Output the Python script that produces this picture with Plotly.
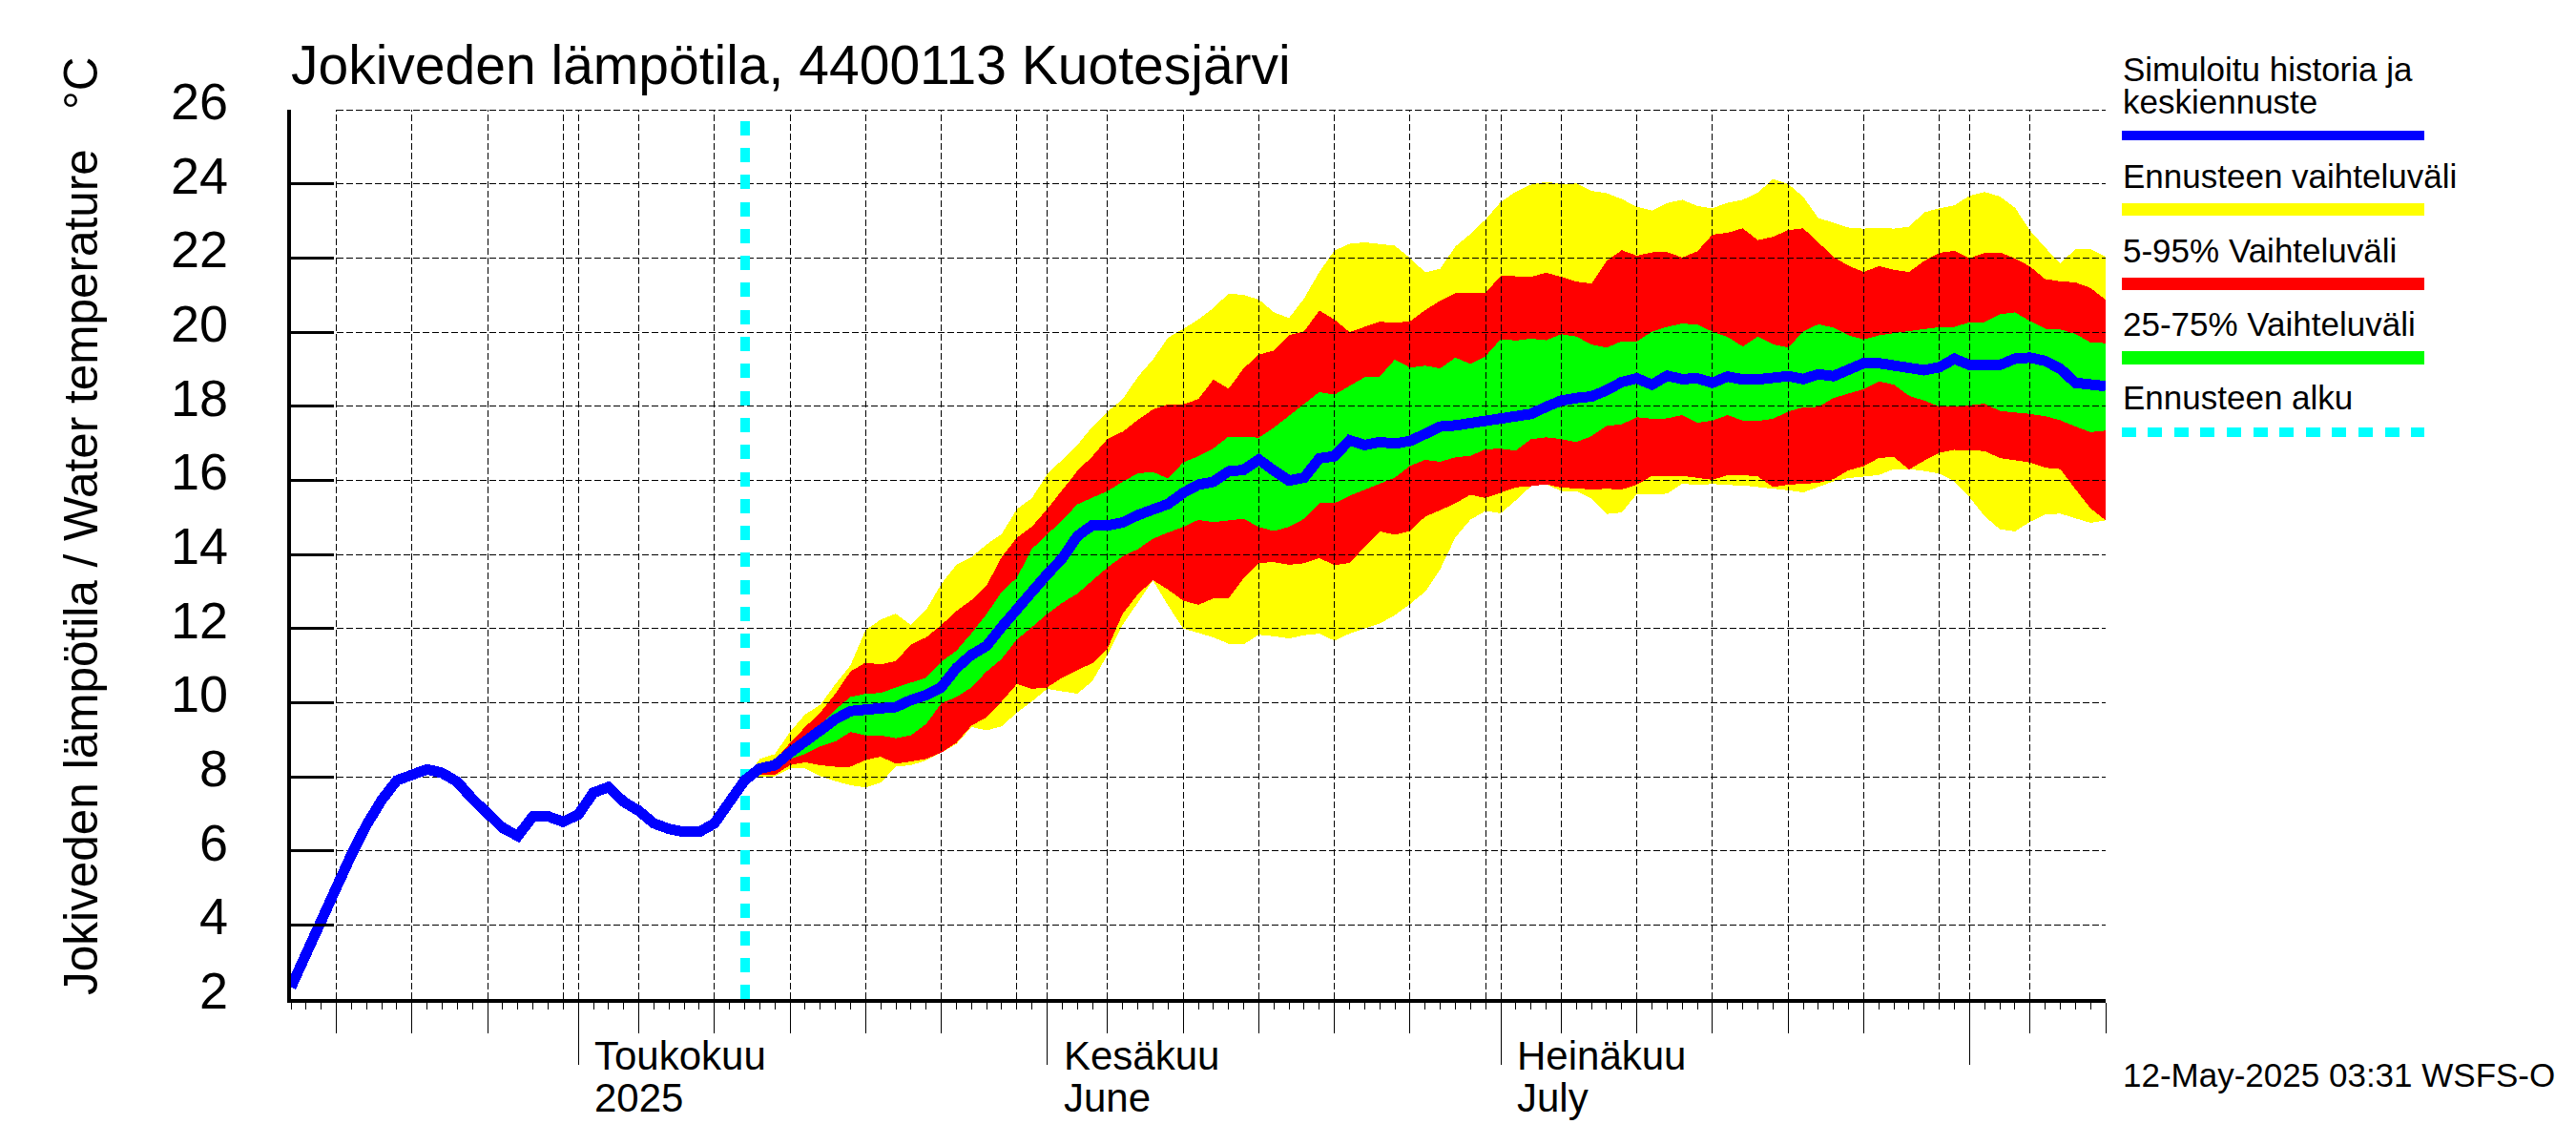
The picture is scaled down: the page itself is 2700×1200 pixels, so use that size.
import pandas as pd
import plotly.graph_objects as go

# history, simulated daily values 12.4. - 11.5.
hist_dates = pd.date_range('2025-04-12', '2025-05-11').strftime('%Y-%m-%d').tolist()
hist = [2.32, 3.25, 4.04, 5.0, 5.9, 6.7, 7.37, 7.9, 8.06, 8.2,
        8.1, 7.86, 7.4, 7.03, 6.62, 6.4, 6.93, 6.93, 6.78, 6.98,
        7.57, 7.72, 7.32, 7.08, 6.74, 6.59, 6.51, 6.51, 6.74, 7.32]

# forecast, daily values 12.5. - 10.8.
fc_dates = pd.date_range('2025-05-12', '2025-08-10').strftime('%Y-%m-%d').tolist()
median = [7.9, 8.22, 8.31, 8.65, 8.91, 9.25, 9.55, 9.77, 9.81, 9.81,
          9.88, 10.07, 10.2, 10.41, 10.93, 11.29, 11.53, 12.04, 12.47, 12.99,
          13.46, 13.89, 14.49, 14.79, 14.78, 14.86, 15.06, 15.22, 15.36, 15.66,
          15.88, 15.96, 16.24, 16.28, 16.56, 16.26, 15.99, 16.07, 16.59, 16.65,
          17.08, 16.95, 17.03, 16.99, 17.06, 17.25, 17.45, 17.48, 17.53, 17.64,
          17.68, 17.75, 17.79, 17.98, 18.15, 18.22, 18.26, 18.43, 18.65, 18.75,
          18.58, 18.82, 18.73, 18.75, 18.63, 18.8, 18.72, 18.72, 18.75, 18.81,
          18.73, 18.86, 18.81, 19.01, 19.16, 19.16, 19.09, 18.97, 18.97, 19.05,
          19.28, 19.11, 19.11, 19.11, 19.28, 19.31, 19.22, 19.01, 18.63, 18.61, 18.54]

range_hi = [7.9, 8.48, 8.61, 9.21, 9.68, 9.94, 10.5, 11.01, 11.96, 12.24,
            12.4, 12.09, 12.5, 13.2, 13.72, 13.93, 14.27, 14.55, 15.22, 15.52,
            16.16, 16.55, 16.95, 17.45, 17.85, 18.19, 18.79, 19.26, 19.85, 20.08,
            20.34, 20.65, 21.04, 21.0, 20.88, 20.53, 20.38, 20.91, 21.62, 22.2,
            22.38, 22.42, 22.37, 22.33, 22.0, 21.61, 21.71, 22.31, 22.65, 23.04,
            23.51, 23.79, 23.98, 24.05, 24.0, 24.01, 23.81, 23.75, 23.59, 23.38,
            23.28, 23.48, 23.57, 23.4, 23.34, 23.49, 23.57, 23.76, 24.13, 24.0,
            23.65, 23.08, 22.95, 22.82, 22.79, 22.82, 22.79, 22.84, 23.23, 23.34,
            23.42, 23.68, 23.78, 23.66, 23.36, 22.74, 22.28, 21.85, 22.24, 22.24, 22.03]
range_lo = [7.9, 8.01, 8.01, 8.22, 8.22, 8.01, 7.88, 7.77, 7.71, 7.84,
            8.27, 8.31, 8.44, 8.65, 8.88, 9.34, 9.25, 9.36, 9.73, 10.03,
            10.37, 10.31, 10.24, 10.58, 11.3, 12.1, 12.7, 13.3, 12.62, 12.0,
            11.89, 11.76, 11.59, 11.57, 11.83, 11.79, 11.73, 11.82, 11.86, 11.67,
            11.86, 12.0, 12.13, 12.36, 12.66, 12.99, 13.6, 14.46, 14.94, 15.17,
            15.11, 15.46, 15.84, 15.89, 15.71, 15.71, 15.5, 15.09, 15.13, 15.63,
            15.61, 15.64, 15.91, 15.87, 15.9, 15.87, 15.86, 15.82, 15.77, 15.73,
            15.67, 15.82, 15.97, 16.06, 16.1, 16.14, 16.3, 16.3, 16.25, 16.18,
            15.97, 15.54, 15.03, 14.68, 14.62, 14.88, 15.07, 15.1, 14.97, 14.85, 14.92]

p95 = [7.9, 8.3, 8.44, 8.91, 9.34, 9.73, 10.24, 10.84, 11.08, 11.03,
       11.12, 11.57, 11.76, 12.09, 12.47, 12.77, 13.16, 13.93, 14.45, 14.75,
       15.22, 15.73, 16.25, 16.65, 17.12, 17.31, 17.63, 17.91, 18.05, 18.05,
       18.19, 18.72, 18.47, 19.02, 19.39, 19.5, 19.92, 20.02, 20.58, 20.34,
       20.0, 20.14, 20.28, 20.25, 20.29, 20.59, 20.85, 21.05, 21.06, 21.06,
       21.52, 21.51, 21.49, 21.6, 21.49, 21.36, 21.31, 21.92, 22.21, 22.06,
       22.15, 22.16, 22.01, 22.18, 22.63, 22.68, 22.8, 22.48, 22.57, 22.75,
       22.8, 22.42, 22.03, 21.79, 21.62, 21.78, 21.68, 21.62, 21.92, 22.14,
       22.19, 21.99, 22.14, 22.15, 21.99, 21.77, 21.43, 21.37, 21.34, 21.19, 20.87]
p05 = [7.9, 8.05, 8.05, 8.31, 8.39, 8.31, 8.27, 8.27, 8.45, 8.54,
       8.35, 8.41, 8.48, 8.65, 8.91, 9.38, 9.6, 10.03, 10.5, 10.37,
       10.41, 10.67, 10.88, 11.06, 11.46, 12.4, 12.92, 13.3, 13.05, 12.75,
       12.64, 12.81, 12.81, 13.36, 13.77, 13.79, 13.72, 13.76, 13.9, 13.71,
       13.77, 14.2, 14.62, 14.53, 14.63, 15.02, 15.19, 15.38, 15.61, 15.52,
       15.67, 15.81, 15.84, 15.89, 15.8, 15.78, 15.75, 15.77, 15.75, 15.88,
       16.12, 16.1, 16.12, 16.06, 16.01, 16.14, 16.14, 16.1, 15.82, 15.88,
       15.91, 15.93, 16.03, 16.27, 16.38, 16.6, 16.63, 16.29, 16.53, 16.74,
       16.82, 16.8, 16.79, 16.6, 16.54, 16.48, 16.34, 16.3, 15.76, 15.24, 14.92]

p75 = [7.9, 8.25, 8.35, 8.6, 9.0, 9.38, 9.81, 10.15, 10.24, 10.26,
       10.41, 10.54, 10.67, 11.1, 11.4, 11.87, 12.39, 12.99, 13.37, 14.15,
       14.53, 14.92, 15.35, 15.52, 15.71, 15.96, 16.19, 16.22, 16.05, 16.48,
       16.65, 16.86, 17.18, 17.17, 17.15, 17.42, 17.74, 18.05, 18.38, 18.31,
       18.54, 18.78, 18.8, 19.26, 19.04, 19.09, 19.02, 19.31, 19.14, 19.35,
       19.81, 19.77, 19.82, 19.78, 19.94, 19.88, 19.66, 19.58, 19.75, 19.75,
       20.01, 20.14, 20.23, 20.2, 20.01, 19.87, 19.61, 19.88, 19.67, 19.58,
       20.01, 20.21, 20.12, 19.91, 19.8, 19.91, 19.97, 20.03, 20.08, 20.13,
       20.14, 20.26, 20.27, 20.48, 20.53, 20.3, 20.09, 20.07, 19.95, 19.72, 19.7]
p25 = [7.9, 8.12, 8.2, 8.48, 8.61, 8.82, 8.95, 9.21, 9.11, 9.11,
       9.04, 9.12, 9.42, 9.98, 10.15, 10.41, 10.84, 11.18, 11.7, 12.04,
       12.39, 12.69, 12.94, 13.29, 13.65, 13.95, 14.14, 14.42, 14.59, 14.74,
       14.93, 14.87, 14.91, 14.96, 14.74, 14.63, 14.74, 14.96, 15.38, 15.38,
       15.58, 15.75, 15.9, 16.07, 16.39, 16.55, 16.5, 16.62, 16.66, 16.84,
       16.85, 16.8, 17.11, 17.16, 17.11, 17.03, 17.19, 17.47, 17.51, 17.7,
       17.66, 17.67, 17.76, 17.55, 17.61, 17.76, 17.61, 17.6, 17.66, 17.85,
       17.97, 17.98, 18.22, 18.34, 18.46, 18.67, 18.58, 18.28, 18.15, 17.99,
       17.99, 18.02, 18.07, 17.87, 17.83, 17.79, 17.73, 17.62, 17.45, 17.3, 17.34]

y_ticks = [2, 4, 6, 8, 10, 12, 14, 16, 18, 20, 22, 24, 26]
fc_start = '2025-05-12'
fc_start_y = [25.7, 2]

days = pd.date_range('2025-04-12', '2025-08-10')
month_ticks = [d.strftime('%Y-%m-%d') for d in days if d.day == 1]
five_ticks = [d.strftime('%Y-%m-%d') for d in days if d.day in (5, 10, 15, 20, 25)]
grid_days = [d.strftime('%Y-%m-%d') for d in days if d.day == 1 or d.day % 5 == 0]
day_ticks = days.strftime('%Y-%m-%d').tolist()

month_labels = [('2025-05-01', 'Toukokuu', '2025'),
                ('2025-06-01', 'Kesäkuu', 'June'),
                ('2025-07-01', 'Heinäkuu', 'July')]

legend_labels = [(85, 'Simuloitu historia ja'), (118.5, 'keskiennuste'),
                 (197, 'Ennusteen vaihteluväli'), (275, '5-95% Vaihteluväli'),
                 (352, '25-75% Vaihteluväli'), (429, 'Ennusteen alku')]
legend_keys = [(137, 147, '#0000ff'), (213, 226, '#ffff00'),
               (291, 304, '#ff0000'), (368, 382, '#00ff00')]

FONT = 'Liberation Sans'
L, R, T, B = 305, 2207, 115, 1047


def px(x):
    return (x - L) / (R - L)


def py(y):
    return (B - y) / (B - T)


def base_text(x, base, text, size):
    # x left edge and text baseline in page pixels
    return dict(text=text, xref='paper', yref='paper', x=px(x), y=py(base), xanchor='left',
                yanchor='bottom', yshift=-0.27 * size, showarrow=False, align='left',
                font=dict(family=FONT, size=size, color='black'))


def band(hi, lo, color):
    return go.Scatter(x=fc_dates + fc_dates[::-1], y=hi + lo[::-1], mode='lines', fill='toself',
                      fillcolor=color, line=dict(width=0), hoverinfo='skip', showlegend=False)


fig = go.Figure()
fig.add_trace(band(range_hi, range_lo, '#ffff00'))
fig.add_trace(band(p95, p05, '#ff0000'))
fig.add_trace(band(p75, p25, '#00ff00'))

# grid on top of the bands but under the lines
grid_x, grid_y = [], []
for d in grid_days:
    grid_x += [d, d, None]
    grid_y += [2, 26, None]
for v in y_ticks:
    grid_x += ['2025-04-15', '2025-08-10', None]
    grid_y += [v, v, None]
fig.add_trace(go.Scatter(x=grid_x, y=grid_y, mode='lines', showlegend=False, hoverinfo='skip',
                         line=dict(color='black', width=1, dash='7px,3px')))

fig.add_trace(go.Scatter(x=[fc_start, fc_start], y=fc_start_y, mode='lines', showlegend=False,
                         line=dict(color='#00ffff', width=10, dash='15px,13.3px')))
fig.add_trace(go.Scatter(x=hist_dates + fc_dates, y=hist + median, mode='lines', showlegend=False,
                         cliponaxis=False, line=dict(color='#0000ff', width=11)))
# carries the long month ticks
fig.add_trace(go.Scatter(x=[], y=[], xaxis='x2', showlegend=False))

annotations = []
annotations.append(base_text(303, 87, 'Jokiveden lämpötila, 4400113 Kuotesjärvi', 57))
annotations.append(dict(text='Jokiveden lämpötila / Water temperature\u00a0\u00a0\u00a0°C',
                        xref='paper', yref='paper', x=px(84), y=py(551), textangle=-90,
                        xanchor='center', yanchor='middle', showarrow=False,
                        font=dict(family=FONT, size=49.5, color='black')))
for v in y_ticks:
    annotations.append(dict(text=str(v), xref='paper', yref='y', x=px(241), y=v, xanchor='right',
                            yshift=9, showarrow=False, font=dict(family=FONT, size=54, color='black')))
for d, fi, en in month_labels:
    for base, s in ((1120.7, fi), (1165, en)):
        annotations.append(dict(text=s, xref='x', yref='paper', x=d, y=py(base), xanchor='left',
                                yanchor='bottom', xshift=15, yshift=-0.27 * 42, showarrow=False,
                                font=dict(family=FONT, size=42, color='black')))
for base, s in legend_labels:
    annotations.append(base_text(2223, base, s, 35))
annotations.append(base_text(2223, 1139, '12-May-2025 03:31 WSFS-O', 35))

shapes = [dict(type='rect', xref='paper', yref='paper', x0=px(2223.5), x1=px(2541), y0=py(y1), y1=py(y0),
               fillcolor=c, line=dict(width=0)) for y0, y1, c in legend_keys]
shapes.append(dict(type='line', xref='paper', yref='paper', x0=px(2223.5), x1=px(2541), y0=py(453), y1=py(453),
                   line=dict(color='#00ffff', width=10, dash='15px,12.6px')))

x_range = ['2025-04-12', '2025-08-10']
fig.update_layout(
    width=2700, height=1200, margin=dict(l=L, r=2700 - R, t=T, b=1200 - B, pad=0),
    paper_bgcolor='white', plot_bgcolor='white', showlegend=False,
    annotations=annotations, shapes=shapes,
    xaxis=dict(type='date', range=x_range, showgrid=False, zeroline=False, showline=True, linecolor='black',
               linewidth=4, tickmode='array', tickvals=five_ticks, ticks='outside', ticklen=32, tickwidth=1,
               tickcolor='black', showticklabels=False,
               minor=dict(tickmode='array', tickvals=day_ticks, ticks='outside', ticklen=7, tickwidth=1,
                          tickcolor='black', showgrid=False)),
    xaxis2=dict(type='date', range=x_range, overlaying='x', anchor='y', side='bottom', showgrid=False,
                zeroline=False, tickmode='array', tickvals=month_ticks, ticks='outside', ticklen=68,
                tickwidth=1, tickcolor='black', showticklabels=False),
    yaxis=dict(range=[2, 26], showgrid=False, zeroline=False, showline=True, linecolor='black', linewidth=4,
               tickmode='array', tickvals=y_ticks, ticks='inside', ticklen=45, tickwidth=3, tickcolor='black',
               showticklabels=False),
)

# no page margin, and hard pixel edges like the original bitmap
fig.write_html("out.html", config={'displayModeBar': False},
               post_script="document.body.style.margin='0';"
                           "document.querySelectorAll('.main-svg').forEach(s => s.style.shapeRendering='crispEdges');")
